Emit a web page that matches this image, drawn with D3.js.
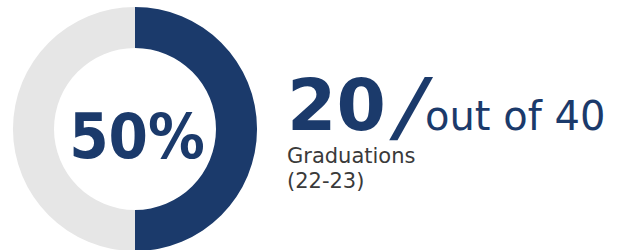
<!DOCTYPE html>
<html>
<head>
<meta charset="utf-8">
<script src="https://cdn.jsdelivr.net/npm/d3@7"></script>
<style>
  html, body { margin: 0; padding: 0; background: #fff; }
  svg { display: block; }
</style>
</head>
<body>
<div id="chart"></div>
<script>
// chart data
const categories = ["Graduations", "Remaining"];
const values = [20, 20];
const total = 40;
const subLabels = ["Graduations", "(22-23)"];

const width = 626, height = 250;
const colors = d3.scaleOrdinal().domain(categories).range(["#1b3a6b", "#e6e6e6"]);

const svg = d3.select("#chart").append("svg")
    .attr("width", width)
    .attr("height", height);

// donut
const cx = 135, cy = 129;
const pie = d3.pie().sort(null).value(d => d.value);
const arc = d3.arc().innerRadius(81).outerRadius(122);

const donut = svg.append("g")
    .attr("transform", `translate(${cx}, ${cy})`);

donut.selectAll("path")
    .data(pie(categories.map((c, i) => ({ name: c, value: values[i] }))))
    .enter()
    .append("path")
    .attr("d", arc)
    .style("fill", d => colors(d.data.name));

const pct = Math.round(values[0] / total * 100);
donut.append("text")
    .attr("x", 2)
    .attr("y", 29)
    .attr("text-anchor", "middle")
    .style("font-family", "'DejaVu Sans Condensed', 'DejaVu Sans', sans-serif")
    .style("font-stretch", "condensed")
    .style("font-weight", "bold")
    .style("font-size", "63px")
    .style("fill", colors(categories[0]))
    .text(pct + "%");

// big number + "out of"
svg.append("text")
    .attr("x", 287)
    .attr("y", 130)
    .style("font-family", "'DejaVu Sans', sans-serif")
    .style("font-weight", "bold")
    .style("font-size", "71px")
    .style("fill", colors(categories[0]))
    .text(values[0]);

svg.append("text")
    .attr("transform", "translate(391, 133) skewX(-14)")
    .style("font-family", "'DejaVu Sans', sans-serif")
    .style("font-weight", "bold")
    .style("font-size", "77px")
    .style("fill", colors(categories[0]))
    .text("/");

svg.append("text")
    .attr("x", 425)
    .attr("y", 130)
    .style("font-family", "'DejaVu Sans', sans-serif")
    .style("font-size", "40px")
    .style("fill", colors(categories[0]))
    .text("out of " + total);

// sub label
svg.append("g").selectAll("text")
    .data(subLabels)
    .enter()
    .append("text")
    .attr("x", 287)
    .attr("y", (d, i) => 163 + i * 25)
    .style("font-family", "'DejaVu Sans', sans-serif")
    .style("font-size", "21px")
    .style("fill", "#3a3a3a")
    .text(d => d);
</script>
</body>
</html>
